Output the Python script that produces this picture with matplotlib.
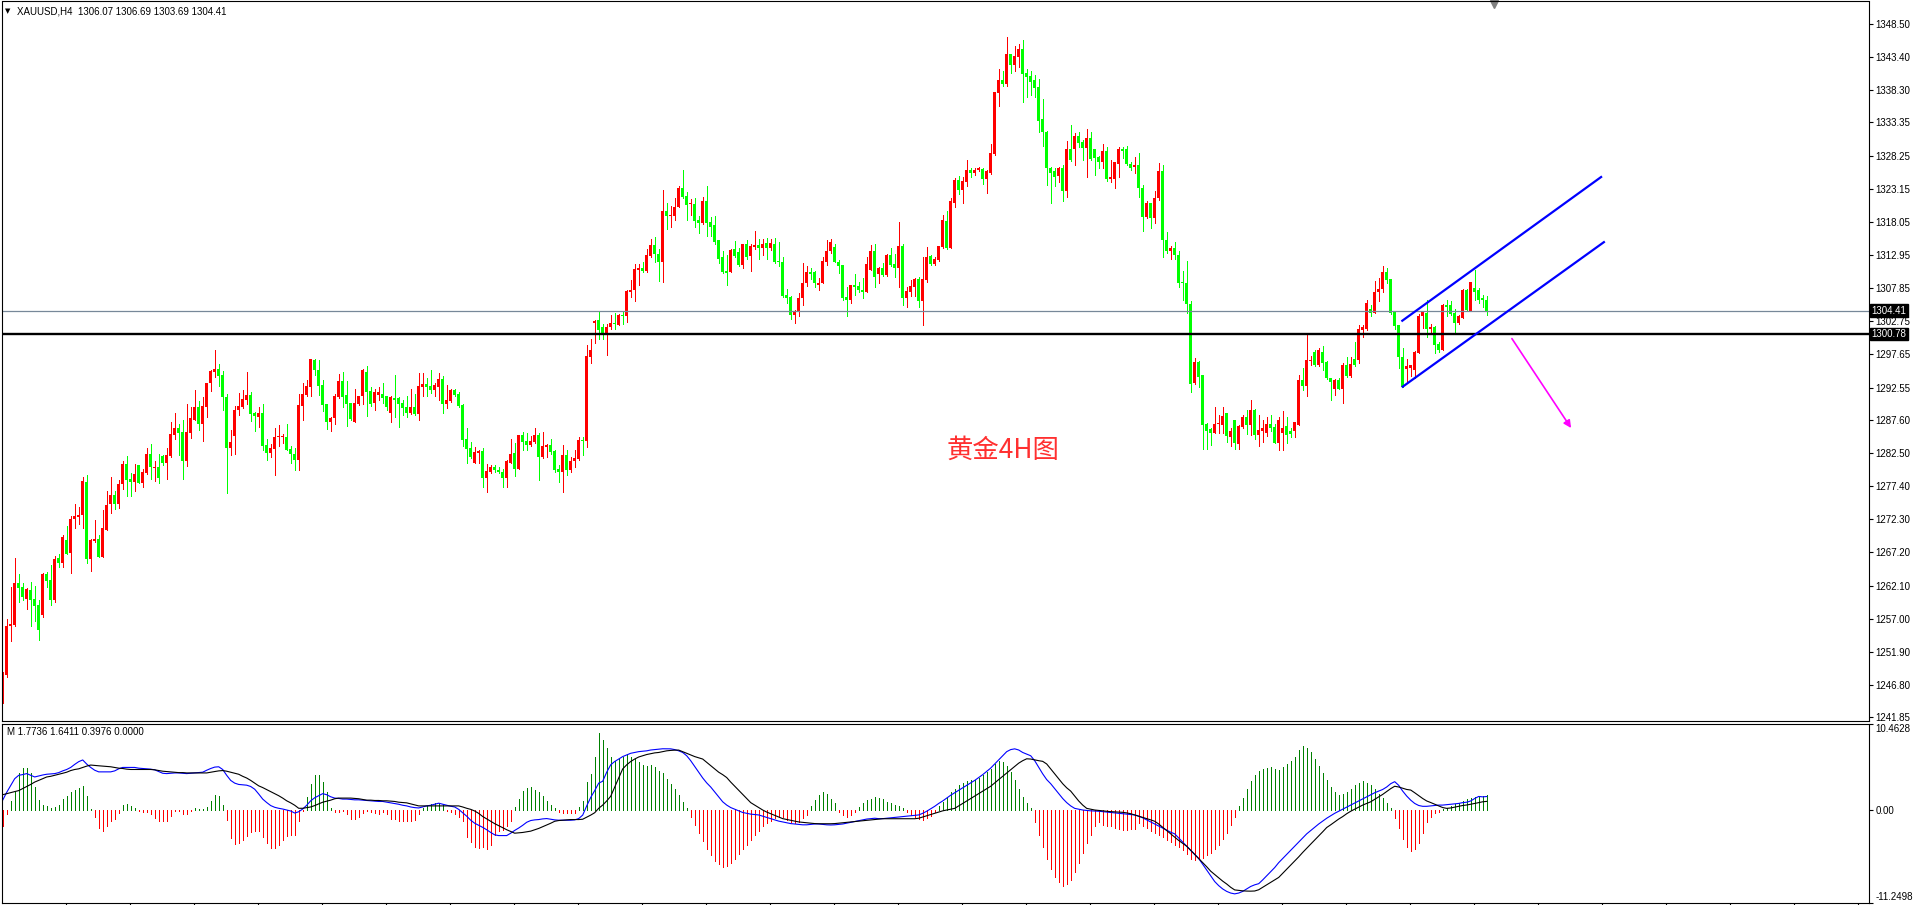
import numpy as np
import matplotlib.pyplot as plt

plt.rcParams['font.family'] = ['Liberation Sans', 'DejaVu Sans']

# XAUUSD H4 bars (oldest first)
opens = [
    1244.2, 1248.3, 1255.8, 1256.0, 1262.5, 1261.9, 1260.0, 1261.4, 1260.0, 1259.1,
    1257.6, 1263.9, 1263.0, 1259.9, 1266.3, 1265.6, 1269.1, 1267.1, 1272.3, 1272.7,
    1272.9, 1278.1, 1266.2, 1268.9, 1269.2, 1266.5, 1270.7, 1274.6, 1276.0, 1274.6,
    1277.7, 1280.8, 1278.5, 1278.1, 1280.6, 1277.9, 1279.4, 1282.3, 1280.2, 1280.4,
    1282.0, 1281.0, 1282.0, 1285.2, 1286.4, 1285.7, 1281.3, 1285.6, 1287.6, 1289.6,
    1287.0, 1289.5, 1293.2, 1295.0, 1295.4, 1294.5, 1291.1, 1283.3, 1285.1, 1289.1,
    1289.6, 1290.6, 1291.4, 1288.7, 1288.1, 1288.7, 1283.7, 1282.5, 1283.1, 1284.9,
    1284.9, 1285.0, 1283.1, 1282.3, 1281.4, 1289.7, 1291.4, 1292.7, 1296.8, 1295.3,
    1292.9, 1290.0, 1287.3, 1287.9, 1291.1, 1293.6, 1291.4, 1290.2, 1287.3, 1290.0,
    1291.2, 1295.0, 1292.1, 1290.2, 1291.4, 1291.5, 1291.2, 1288.7, 1291.0, 1290.9,
    1290.2, 1289.5, 1288.6, 1289.6, 1288.5, 1292.6, 1293.1, 1292.8, 1292.2, 1292.6,
    1293.9, 1290.0, 1290.5, 1292.2, 1291.6, 1289.9, 1284.6, 1283.3, 1281.0, 1282.5,
    1282.8, 1278.7, 1279.6, 1280.4, 1279.8, 1279.6, 1278.7, 1280.9, 1282.5, 1280.0,
    1285.2, 1284.4, 1283.7, 1284.2, 1285.3, 1281.9, 1283.4, 1283.7, 1282.8, 1280.0,
    1279.5, 1282.2, 1279.8, 1281.2, 1281.6, 1284.5, 1284.4, 1297.3, 1302.5, 1302.9,
    1301.8, 1300.8, 1301.8, 1302.5, 1302.2, 1303.7, 1303.5, 1307.3, 1307.5, 1310.6,
    1311.0, 1310.5, 1312.8, 1314.5, 1313.1, 1311.9, 1319.7, 1318.9, 1318.9, 1320.3,
    1323.2, 1322.0, 1320.8, 1320.8, 1318.4, 1317.8, 1321.3, 1318.1, 1317.6, 1315.2,
    1312.7, 1310.5, 1310.4, 1313.8, 1313.4, 1311.4, 1314.6, 1312.8, 1314.2, 1314.5,
    1314.0, 1314.8, 1314.0, 1314.7, 1312.0, 1311.9, 1306.8, 1306.5, 1303.7, 1304.2,
    1306.4, 1308.6, 1310.3, 1310.3, 1308.3, 1308.7, 1311.9, 1313.5, 1314.2, 1311.9,
    1311.4, 1306.5, 1306.0, 1308.3, 1308.2, 1307.6, 1307.3, 1310.6, 1313.5, 1310.0,
    1310.9, 1309.9, 1313.0, 1311.6, 1310.9, 1314.3, 1306.3, 1307.3, 1308.1, 1309.3,
    1305.8, 1309.1, 1312.8, 1311.6, 1312.2, 1314.2, 1318.2, 1314.1, 1321.0, 1324.5,
    1322.9, 1324.2, 1326.0, 1325.6, 1326.1, 1326.2, 1324.6, 1325.6, 1328.5, 1337.9,
    1339.8, 1339.3, 1343.9, 1342.2, 1343.4, 1344.6, 1341.0, 1340.5, 1339.8, 1338.8,
    1333.8, 1331.9, 1326.4, 1325.8, 1325.1, 1326.3, 1322.8, 1329.2, 1329.3, 1331.3,
    1330.4, 1329.4, 1330.9, 1329.2, 1328.0, 1327.2, 1329.0, 1324.7, 1324.7, 1327.0,
    1329.2, 1329.2, 1327.0, 1326.5, 1326.8, 1323.2, 1318.8, 1321.0, 1318.6, 1321.7,
    1325.8, 1315.3, 1313.5, 1314.0, 1313.0, 1308.8, 1308.7, 1305.4, 1293.2, 1296.5,
    1294.5, 1287.0, 1286.2, 1285.5, 1286.9, 1286.8, 1288.6, 1284.9, 1287.6, 1283.9,
    1286.5, 1288.0, 1286.8, 1289.1, 1285.2, 1285.8, 1285.6, 1287.0, 1286.5, 1284.1,
    1285.6, 1286.6, 1285.9, 1285.8, 1286.8, 1293.7, 1292.8, 1296.7, 1298.1, 1296.0,
    1298.1, 1296.5, 1294.0, 1292.4, 1293.7, 1292.4, 1296.0, 1294.3, 1297.0, 1296.8,
    1301.4, 1301.6, 1304.7, 1304.1, 1307.3, 1307.7, 1310.4, 1309.2, 1304.2, 1302.2,
    1297.3, 1295.4, 1295.5, 1295.3, 1297.9, 1303.5, 1304.1, 1301.5, 1301.9, 1299.3,
    1298.4, 1305.3, 1305.3, 1304.1, 1302.5, 1303.2, 1307.6, 1304.4, 1307.8, 1307.6,
    1306.3, 1306.07,
]
highs = [
    1248.8, 1256.9, 1261.9, 1266.4, 1263.9, 1262.5, 1261.7, 1262.6, 1262.1, 1259.9,
    1264.0, 1264.2, 1265.2, 1266.6, 1267.0, 1269.8, 1271.3, 1272.8, 1274.6, 1274.2,
    1278.8, 1279.1, 1269.2, 1272.2, 1269.9, 1273.7, 1276.6, 1278.8, 1276.7, 1278.3,
    1281.3, 1282.0, 1279.4, 1280.8, 1280.7, 1280.1, 1283.3, 1283.9, 1281.3, 1282.3,
    1282.2, 1283.3, 1287.3, 1288.6, 1287.0, 1287.6, 1290.1, 1289.6, 1292.2, 1290.5,
    1291.1, 1293.2, 1295.3, 1298.3, 1296.2, 1295.1, 1291.6, 1286.0, 1289.7, 1291.7,
    1292.2, 1294.9, 1291.9, 1288.8, 1289.5, 1290.0, 1284.6, 1283.9, 1286.3, 1286.8,
    1285.4, 1286.9, 1283.5, 1283.3, 1291.6, 1293.2, 1293.7, 1297.0, 1296.9, 1296.8,
    1293.7, 1290.0, 1288.1, 1291.6, 1294.6, 1295.0, 1293.5, 1290.2, 1292.4, 1291.3,
    1295.4, 1295.8, 1292.6, 1292.3, 1292.6, 1293.2, 1291.3, 1291.2, 1294.5, 1291.1,
    1290.6, 1291.2, 1292.4, 1291.6, 1294.8, 1294.8, 1294.0, 1295.3, 1293.2, 1294.8,
    1294.3, 1292.9, 1292.3, 1292.4, 1291.9, 1290.0, 1286.3, 1284.2, 1283.4, 1282.9,
    1283.2, 1280.8, 1280.6, 1280.6, 1280.4, 1280.1, 1281.4, 1284.6, 1284.1, 1285.3,
    1285.7, 1285.5, 1285.1, 1286.4, 1285.5, 1285.7, 1283.9, 1284.6, 1283.0, 1280.6,
    1283.7, 1283.0, 1281.9, 1283.0, 1284.9, 1285.0, 1299.1, 1300.1, 1303.0, 1304.4,
    1302.3, 1302.4, 1303.7, 1304.0, 1303.8, 1304.3, 1307.6, 1309.1, 1311.6, 1311.6,
    1311.9, 1313.9, 1315.4, 1315.7, 1313.8, 1323.0, 1320.9, 1320.5, 1321.7, 1323.6,
    1326.0, 1322.7, 1321.5, 1321.7, 1318.9, 1321.8, 1323.5, 1318.8, 1319.0, 1315.2,
    1313.5, 1312.9, 1313.8, 1315.1, 1314.1, 1314.7, 1315.2, 1314.6, 1316.7, 1315.4,
    1315.4, 1315.5, 1315.4, 1315.5, 1315.0, 1312.7, 1307.7, 1306.6, 1304.5, 1307.1,
    1311.7, 1311.3, 1311.0, 1310.5, 1309.4, 1312.7, 1315.3, 1315.4, 1314.7, 1312.2,
    1311.4, 1308.1, 1308.4, 1310.1, 1308.8, 1309.4, 1312.7, 1314.5, 1314.6, 1311.1,
    1311.7, 1313.1, 1314.1, 1313.1, 1318.1, 1314.7, 1308.1, 1309.1, 1309.4, 1309.5,
    1312.6, 1314.2, 1312.9, 1312.7, 1314.4, 1319.1, 1319.7, 1321.7, 1324.8, 1325.1,
    1325.0, 1327.5, 1326.4, 1326.4, 1326.5, 1326.3, 1326.0, 1330.1, 1338.1, 1341.6,
    1341.2, 1346.5, 1343.9, 1345.1, 1345.4, 1346.0, 1341.5, 1341.3, 1340.6, 1340.1,
    1337.0, 1332.0, 1326.5, 1326.4, 1326.5, 1326.8, 1330.5, 1332.9, 1331.7, 1331.8,
    1330.6, 1332.3, 1331.8, 1329.3, 1328.2, 1330.0, 1329.5, 1327.5, 1327.3, 1329.5,
    1329.5, 1329.7, 1327.3, 1328.0, 1328.6, 1323.7, 1321.2, 1321.0, 1322.8, 1327.1,
    1326.8, 1316.5, 1314.3, 1315.0, 1313.5, 1310.5, 1312.1, 1305.8, 1297.1, 1296.7,
    1294.5, 1287.1, 1286.3, 1289.6, 1288.3, 1289.5, 1288.7, 1286.4, 1287.6, 1286.8,
    1288.3, 1289.1, 1290.7, 1289.2, 1288.3, 1287.6, 1288.1, 1288.4, 1287.0, 1288.1,
    1288.9, 1288.1, 1286.3, 1287.3, 1294.5, 1295.5, 1300.6, 1297.4, 1298.4, 1298.6,
    1298.9, 1296.6, 1294.1, 1293.8, 1294.0, 1296.3, 1297.2, 1297.3, 1299.6, 1302.2,
    1302.2, 1306.0, 1305.3, 1309.0, 1309.4, 1311.2, 1310.9, 1309.2, 1304.2, 1302.2,
    1298.7, 1296.9, 1296.0, 1298.2, 1303.9, 1304.3, 1306.0, 1302.4, 1302.0, 1299.5,
    1305.4, 1306.1, 1305.9, 1304.7, 1303.7, 1307.7, 1307.7, 1308.8, 1310.6, 1307.8,
    1306.8, 1306.69,
]
lows = [
    1244.0, 1248.1, 1253.5, 1255.8, 1259.5, 1259.8, 1258.5, 1255.9, 1256.6, 1253.7,
    1257.2, 1261.9, 1259.1, 1259.6, 1264.9, 1265.0, 1266.9, 1264.1, 1271.0, 1271.5,
    1270.9, 1265.6, 1264.4, 1268.8, 1266.5, 1266.5, 1270.6, 1273.2, 1273.8, 1274.0,
    1276.9, 1275.8, 1275.8, 1276.7, 1277.8, 1277.3, 1279.3, 1278.5, 1278.2, 1277.9,
    1280.6, 1278.5, 1281.9, 1284.6, 1282.2, 1278.5, 1280.5, 1284.8, 1287.5, 1286.0,
    1284.4, 1288.1, 1292.1, 1294.2, 1292.8, 1289.1, 1276.4, 1282.2, 1282.3, 1288.4,
    1289.4, 1290.1, 1287.4, 1285.9, 1286.5, 1283.0, 1281.4, 1281.9, 1279.1, 1283.6,
    1284.0, 1283.0, 1281.0, 1279.9, 1279.9, 1287.5, 1291.2, 1291.2, 1294.5, 1291.4,
    1288.9, 1286.2, 1285.9, 1286.9, 1290.9, 1289.6, 1286.6, 1287.5, 1287.3, 1289.9,
    1290.0, 1288.2, 1289.7, 1289.1, 1290.7, 1290.2, 1289.1, 1287.3, 1288.0, 1286.5,
    1288.3, 1288.1, 1288.5, 1288.3, 1287.6, 1291.2, 1291.3, 1291.7, 1291.2, 1290.6,
    1288.6, 1289.4, 1290.4, 1291.2, 1289.6, 1283.5, 1281.0, 1281.7, 1280.9, 1280.9,
    1277.3, 1276.5, 1279.4, 1279.6, 1279.4, 1277.3, 1277.2, 1280.9, 1278.9, 1280.0,
    1282.9, 1282.9, 1283.5, 1284.0, 1278.3, 1281.7, 1281.9, 1282.3, 1279.5, 1278.1,
    1276.5, 1279.1, 1279.6, 1280.4, 1281.4, 1282.2, 1283.4, 1296.3, 1299.4, 1300.0,
    1300.0, 1297.5, 1301.6, 1301.6, 1302.2, 1302.4, 1302.7, 1306.5, 1305.9, 1308.3,
    1310.4, 1310.4, 1312.7, 1311.8, 1309.0, 1308.8, 1317.0, 1317.2, 1318.4, 1320.3,
    1321.7, 1318.4, 1319.1, 1317.2, 1316.4, 1317.7, 1315.9, 1315.9, 1314.7, 1311.7,
    1310.2, 1308.3, 1310.4, 1312.7, 1311.3, 1311.0, 1312.4, 1310.5, 1313.8, 1312.4,
    1313.0, 1312.4, 1313.7, 1311.7, 1311.3, 1306.5, 1305.5, 1303.1, 1302.5, 1303.5,
    1305.3, 1308.2, 1309.2, 1308.0, 1307.6, 1308.6, 1311.4, 1313.3, 1311.8, 1310.2,
    1306.0, 1303.5, 1305.6, 1306.8, 1307.3, 1306.3, 1307.3, 1310.6, 1308.1, 1308.7,
    1309.7, 1309.7, 1311.2, 1309.6, 1308.0, 1305.2, 1304.9, 1306.7, 1306.6, 1305.0,
    1302.2, 1308.8, 1311.4, 1311.4, 1312.1, 1314.0, 1313.9, 1314.1, 1320.4, 1322.3,
    1321.0, 1323.6, 1325.0, 1325.2, 1325.9, 1323.9, 1322.5, 1325.4, 1328.3, 1335.8,
    1339.0, 1339.0, 1341.0, 1341.3, 1341.9, 1336.5, 1337.3, 1337.6, 1337.3, 1331.8,
    1329.7, 1323.7, 1321.0, 1323.5, 1324.2, 1321.3, 1321.9, 1327.4, 1326.8, 1329.5,
    1327.5, 1324.9, 1327.5, 1325.3, 1326.4, 1326.4, 1324.4, 1324.2, 1323.2, 1325.0,
    1327.9, 1326.8, 1326.1, 1325.5, 1321.9, 1316.7, 1318.7, 1317.1, 1317.9, 1321.4,
    1312.7, 1313.3, 1312.4, 1312.3, 1308.1, 1306.0, 1304.0, 1291.9, 1293.1, 1292.7,
    1283.1, 1283.1, 1283.7, 1285.5, 1285.5, 1285.5, 1284.2, 1283.5, 1283.1, 1283.1,
    1286.4, 1285.4, 1285.2, 1284.7, 1283.5, 1284.2, 1285.1, 1285.8, 1284.0, 1282.9,
    1282.9, 1284.1, 1285.0, 1285.0, 1286.8, 1292.2, 1291.3, 1296.0, 1295.8, 1295.8,
    1295.2, 1293.8, 1290.6, 1291.4, 1292.3, 1290.2, 1294.2, 1294.2, 1295.8, 1296.3,
    1300.4, 1301.4, 1303.6, 1304.0, 1305.8, 1307.3, 1308.6, 1303.9, 1301.5, 1295.5,
    1292.7, 1293.2, 1294.3, 1294.0, 1297.9, 1301.7, 1300.4, 1300.9, 1297.9, 1298.1,
    1298.3, 1303.6, 1303.7, 1300.9, 1302.3, 1303.2, 1304.4, 1304.4, 1306.0, 1305.6,
    1304.9, 1303.69,
]
closes = [
    1248.6, 1255.9, 1256.2, 1262.5, 1261.7, 1260.3, 1261.5, 1259.9, 1258.9, 1255.3,
    1263.9, 1262.8, 1259.9, 1266.2, 1265.5, 1269.6, 1267.0, 1272.3, 1272.8, 1273.0,
    1278.2, 1266.2, 1269.1, 1269.2, 1266.5, 1270.9, 1274.5, 1276.0, 1274.6, 1277.7,
    1280.8, 1278.4, 1278.1, 1279.3, 1277.9, 1279.5, 1282.3, 1280.3, 1280.4, 1278.7,
    1281.0, 1282.2, 1285.4, 1286.4, 1285.6, 1281.3, 1285.7, 1287.9, 1289.6, 1287.0,
    1289.7, 1293.2, 1295.1, 1295.4, 1294.4, 1291.1, 1283.3, 1284.2, 1289.1, 1289.7,
    1290.8, 1291.4, 1288.5, 1288.2, 1288.7, 1283.6, 1282.5, 1283.3, 1285.0, 1285.0,
    1285.0, 1283.0, 1282.3, 1281.4, 1289.9, 1291.6, 1292.8, 1296.9, 1295.2, 1292.8,
    1289.9, 1287.3, 1287.9, 1291.3, 1293.6, 1291.1, 1290.0, 1287.7, 1290.2, 1291.3,
    1295.2, 1291.9, 1290.1, 1291.8, 1291.8, 1291.0, 1289.5, 1291.1, 1290.7, 1290.1,
    1289.4, 1288.6, 1289.5, 1288.5, 1292.8, 1293.1, 1292.6, 1292.2, 1292.9, 1293.9,
    1290.0, 1290.6, 1292.2, 1291.4, 1289.7, 1284.5, 1283.1, 1281.8, 1282.6, 1282.8,
    1278.7, 1279.7, 1280.4, 1279.9, 1279.5, 1278.7, 1281.2, 1282.4, 1280.0, 1285.2,
    1284.2, 1283.7, 1284.4, 1285.3, 1281.9, 1283.5, 1283.7, 1282.6, 1279.9, 1279.5,
    1282.2, 1279.8, 1281.3, 1281.7, 1284.5, 1284.4, 1297.4, 1298.3, 1302.8, 1301.4,
    1300.9, 1301.8, 1302.5, 1302.4, 1303.7, 1303.5, 1307.4, 1307.6, 1310.8, 1311.0,
    1310.5, 1313.0, 1314.5, 1313.1, 1311.9, 1319.7, 1318.9, 1319.1, 1320.3, 1323.2,
    1321.8, 1320.6, 1321.0, 1318.2, 1317.8, 1321.3, 1317.9, 1317.2, 1315.0, 1312.4,
    1310.4, 1310.2, 1313.7, 1312.8, 1311.4, 1314.6, 1312.6, 1314.3, 1314.5, 1314.0,
    1314.7, 1314.0, 1314.8, 1311.9, 1311.9, 1306.6, 1306.3, 1303.7, 1304.3, 1306.4,
    1308.7, 1310.3, 1310.1, 1308.6, 1308.7, 1312.0, 1313.6, 1315.0, 1311.9, 1311.3,
    1306.4, 1306.0, 1308.3, 1308.1, 1307.5, 1307.3, 1311.6, 1313.5, 1309.6, 1310.9,
    1309.9, 1313.0, 1311.4, 1310.9, 1314.3, 1306.4, 1307.4, 1308.2, 1309.3, 1305.8,
    1309.3, 1312.6, 1311.6, 1312.3, 1314.3, 1318.3, 1314.1, 1321.3, 1324.5, 1322.9,
    1324.3, 1326.0, 1325.6, 1326.1, 1326.3, 1324.6, 1325.8, 1328.6, 1338.1, 1339.8,
    1339.3, 1343.9, 1342.2, 1343.5, 1344.6, 1340.8, 1340.4, 1339.6, 1338.7, 1333.6,
    1331.8, 1326.3, 1325.6, 1325.0, 1326.3, 1322.8, 1329.3, 1327.5, 1331.3, 1330.2,
    1329.4, 1331.0, 1327.7, 1327.8, 1327.3, 1329.0, 1324.6, 1325.0, 1327.2, 1329.2,
    1329.0, 1326.9, 1326.4, 1326.8, 1323.2, 1318.8, 1321.0, 1318.6, 1321.7, 1325.8,
    1315.3, 1313.5, 1314.1, 1313.0, 1308.7, 1308.6, 1305.4, 1293.1, 1296.5, 1294.2,
    1286.8, 1285.9, 1285.5, 1287.0, 1287.0, 1288.2, 1285.1, 1285.8, 1284.0, 1286.6,
    1288.0, 1286.8, 1289.1, 1285.2, 1286.0, 1286.3, 1287.0, 1286.3, 1284.1, 1287.5,
    1286.3, 1285.3, 1285.4, 1287.2, 1293.7, 1292.8, 1296.8, 1296.8, 1296.0, 1298.4,
    1296.4, 1294.0, 1293.4, 1293.7, 1292.4, 1296.0, 1294.3, 1296.2, 1296.0, 1301.6,
    1301.9, 1305.5, 1304.1, 1307.3, 1307.7, 1310.4, 1309.1, 1304.1, 1302.0, 1297.2,
    1292.7, 1295.8, 1296.0, 1298.1, 1303.6, 1304.2, 1301.5, 1301.8, 1299.1, 1298.3,
    1305.3, 1305.0, 1303.9, 1302.5, 1303.5, 1307.5, 1304.5, 1308.8, 1307.3, 1306.1,
    1306.0, 1304.41,
]

# MACD panel: blue main line, black signal line, histogram
macd_main = [
    1.20, 2.15, 2.98, 3.81, 4.22, 4.31, 4.43, 4.22, 4.02, 4.14,
    4.26, 4.35, 4.39, 4.43, 4.55, 4.76, 4.93, 5.18, 5.55, 5.88,
    6.09, 5.59, 5.18, 4.84, 4.64, 4.64, 4.64, 4.64, 4.76, 5.01,
    5.18, 5.18, 5.18, 5.18, 5.09, 5.05, 5.01, 4.97, 4.89, 4.68,
    4.47, 4.43, 4.47, 4.51, 4.51, 4.47, 4.43, 4.47, 4.51, 4.55,
    4.60, 4.84, 5.05, 5.22, 5.26, 4.93, 4.22, 3.60, 3.27, 3.11,
    3.06, 3.02, 2.86, 2.53, 1.95, 1.33, 0.91, 0.54, 0.33, 0.21,
    0.12, 0.00, -0.12, -0.37, -0.21, 0.12, 0.58, 1.12, 1.49, 1.74,
    1.99, 1.86, 1.61, 1.45, 1.41, 1.33, 1.33, 1.28, 1.24, 1.24,
    1.20, 1.16, 1.12, 1.08, 1.04, 1.04, 0.95, 0.87, 0.79, 0.70,
    0.58, 0.50, 0.37, 0.29, 0.25, 0.37, 0.50, 0.58, 0.70, 0.83,
    0.70, 0.58, 0.46, 0.37, 0.08, -0.33, -0.75, -1.24, -1.61, -1.86,
    -2.11, -2.40, -2.73, -3.02, -3.11, -3.11, -3.11, -2.82, -2.48, -2.19,
    -1.86, -1.49, -1.28, -1.20, -1.16, -1.08, -1.04, -1.12, -1.20, -1.24,
    -1.24, -1.24, -1.24, -1.20, -1.04, -0.62, 0.50, 1.53, 2.36, 3.27,
    3.5, 4.6, 5.5, 5.9, 6.2, 6.5, 6.7, 6.9, 7.0, 7.1,
    7.15, 7.2, 7.3, 7.35, 7.4, 7.45, 7.45, 7.44, 7.35, 7.2,
    7.0, 6.6, 6.0, 5.3, 4.6, 3.9, 3.3, 2.8, 2.2, 1.6,
    1.0, 0.6, 0.3, 0.1, -0.1, -0.3, -0.4, -0.5, -0.55, -0.6,
    -0.75, -0.9, -1.05, -1.2, -1.35, -1.45, -1.55, -1.65, -1.7, -1.75,
    -1.8, -1.8, -1.75, -1.7, -1.7, -1.75, -1.8, -1.82, -1.8, -1.75,
    -1.7, -1.6, -1.5, -1.4, -1.3, -1.2, -1.1, -1.05, -1.0, -1.05,
    -1.05, -1.0, -0.95, -0.9, -0.85, -0.8, -0.75, -0.7, -0.65, -0.6,
    -0.4, -0.15, 0.15, 0.45, 0.8, 1.1, 1.45, 1.8, 2.1, 2.4,
    2.7, 3.0, 3.3, 3.6, 3.95, 4.3, 4.7, 5.1, 5.6, 6.1,
    6.6, 7.1, 7.35, 7.44, 7.3, 7.0, 6.8, 6.6, 6.0, 5.2,
    4.4, 3.7, 3.2, 2.6, 2.0, 1.4, 0.9, 0.5, 0.2, 0.1,
    0.0, -0.05, -0.1, -0.12, -0.15, -0.2, -0.25, -0.3, -0.35, -0.4,
    -0.45, -0.5, -0.55, -0.6, -0.75, -0.95, -1.2, -1.45, -1.7, -1.95,
    -2.2, -2.45, -2.7, -2.9, -3.4, -3.9, -4.4, -4.9, -5.4, -5.9,
    -6.6, -7.3, -8.0, -8.7, -9.2, -9.6, -9.9, -10.1, -10.2, -10.1,
    -9.9, -9.6, -9.3, -9.1, -8.96, -8.5, -8.0, -7.5, -7.0, -6.4,
    -5.9, -5.4, -4.9, -4.4, -3.9, -3.4, -2.9, -2.5, -2.1, -1.7,
    -1.35, -1.0, -0.7, -0.4, -0.15, 0.1, 0.35, 0.6, 0.85, 1.1,
    1.35, 1.6, 1.85, 2.1, 2.3, 2.5, 2.8, 3.2, 3.45, 3.0,
    2.3, 1.7, 1.2, 0.8, 0.55, 0.45, 0.45, 0.5, 0.55, 0.6,
    0.6, 0.65, 0.7, 0.75, 0.8, 0.9, 0.95, 1.1, 1.4, 1.65,
    1.6, 1.64,
]
macd_signal = [
    1.86, 1.99, 2.11, 2.24, 2.36, 2.61, 2.86, 3.11, 3.40, 3.60,
    3.81, 4.02, 4.10, 4.22, 4.35, 4.47, 4.60, 4.80, 4.93, 5.01,
    5.18, 5.34, 5.47, 5.42, 5.38, 5.34, 5.30, 5.26, 5.18, 5.09,
    5.05, 4.97, 4.93, 4.93, 4.93, 4.93, 4.93, 4.93, 4.89, 4.80,
    4.72, 4.68, 4.64, 4.60, 4.55, 4.55, 4.51, 4.51, 4.51, 4.51,
    4.51, 4.51, 4.60, 4.68, 4.76, 4.80, 4.72, 4.60, 4.47, 4.35,
    4.10, 3.89, 3.60, 3.27, 2.94, 2.73, 2.48, 2.24, 1.99, 1.74,
    1.45, 1.12, 0.87, 0.58, 0.21, 0.21, 0.29, 0.37, 0.54, 0.75,
    0.95, 1.08, 1.20, 1.37, 1.45, 1.45, 1.45, 1.45, 1.41, 1.37,
    1.28, 1.20, 1.20, 1.16, 1.16, 1.12, 1.12, 1.08, 1.04, 0.95,
    0.91, 0.87, 0.75, 0.62, 0.50, 0.50, 0.50, 0.50, 0.50, 0.50,
    0.50, 0.50, 0.50, 0.50, 0.50, 0.37, 0.21, 0.08, -0.12, -0.41,
    -0.79, -1.08, -1.37, -1.66, -1.90, -2.15, -2.40, -2.61, -2.82, -2.77,
    -2.73, -2.65, -2.57, -2.40, -2.24, -2.03, -1.82, -1.61, -1.37, -1.28,
    -1.24, -1.20, -1.16, -1.16, -1.16, -1.12, -0.87, -0.62, -0.33, 0.21,
    0.6, 1.1, 1.67, 2.8, 3.9, 5.0, 5.5, 5.9, 6.2, 6.45,
    6.6, 6.75, 6.85, 6.95, 7.0, 7.1, 7.2, 7.25, 7.28, 7.29,
    7.1, 6.9, 6.7, 6.5, 6.35, 6.2, 5.8, 5.4, 5.0, 4.6,
    4.3, 3.95, 3.4, 2.9, 2.4, 1.9, 1.4, 0.9, 0.6, 0.3,
    0.0, -0.25, -0.45, -0.65, -0.85, -1.05, -1.15, -1.25, -1.35, -1.45,
    -1.5, -1.55, -1.6, -1.65, -1.67, -1.67, -1.67, -1.67, -1.65, -1.6,
    -1.55, -1.5, -1.45, -1.4, -1.35, -1.3, -1.25, -1.2, -1.15, -1.1,
    -1.06, -1.06, -1.06, -1.06, -1.06, -1.06, -1.06, -1.06, -1.06, -1.0,
    -0.85, -0.7, -0.55, -0.4, -0.25, -0.1, 0.0, 0.1, 0.2, 0.5,
    0.8, 1.1, 1.4, 1.7, 2.0, 2.3, 2.6, 2.89, 3.3, 3.7,
    4.1, 4.5, 4.9, 5.3, 5.7, 6.0, 6.23, 6.2, 6.1, 6.0,
    5.92, 5.6, 5.0, 4.4, 3.8, 3.2, 2.7, 2.3, 1.7, 1.1,
    0.6, 0.2, 0.1, 0.0, -0.05, -0.1, -0.15, -0.2, -0.22, -0.25,
    -0.28, -0.35, -0.45, -0.6, -0.75, -0.9, -1.05, -1.2, -1.37, -1.7,
    -2.1, -2.5, -2.9, -3.3, -3.7, -4.05, -4.41, -4.9, -5.4, -5.9,
    -6.4, -6.9, -7.44, -7.85, -8.25, -8.65, -9.0, -9.4, -9.72, -9.78,
    -9.83, -9.86, -9.87, -9.85, -9.7, -9.4, -9.1, -8.8, -8.5, -8.2,
    -7.7, -7.2, -6.7, -6.2, -5.7, -5.16, -4.65, -4.15, -3.65, -3.15,
    -2.65, -2.13, -1.8, -1.45, -1.1, -0.8, -0.45, -0.15, 0.1, 0.35,
    0.6, 0.8, 1.0, 1.3, 1.6, 1.9, 2.25, 2.6, 2.89, 2.8,
    2.65, 2.5, 2.43, 2.1, 1.75, 1.4, 1.1, 0.91, 0.7, 0.5,
    0.3, 0.2, 0.25, 0.35, 0.45, 0.55, 0.61, 0.7, 0.8, 0.9,
    1.0, 1.05,
]
macd_hist = [
    -1.99, -0.54, 1.12, 2.15, 4.51, 5.05, 5.05, 4.51, 2.77, 1.20,
    0.62, 0.50, 0.21, 0.37, 0.62, 1.33, 1.74, 2.15, 2.48, 2.69,
    2.98, 1.74, 0.10, -0.87, -2.19, -2.53, -1.99, -1.37, -1.04, -0.33,
    0.62, 0.79, 0.50, 0.29, -0.12, -0.25, -0.25, -0.46, -0.95, -1.37,
    -1.37, -1.37, -0.75, -0.12, -0.12, -0.54, -0.46, -0.12, 0.29, 0.17,
    0.10, 0.41, 1.12, 1.86, 1.74, 0.62, -1.16, -3.44, -4.18, -4.06,
    -3.64, -3.11, -2.69, -2.61, -2.61, -3.23, -4.06, -4.60, -4.68, -4.27,
    -3.64, -3.11, -3.02, -3.02, -1.37, -0.12, 1.61, 3.11, 4.22, 4.31,
    3.40, 2.15, 0.29, -0.25, -0.25, -0.12, -0.54, -1.04, -1.04, -0.87,
    -0.33, -0.12, -0.21, -0.33, -0.54, -0.25, -0.54, -1.04, -1.04, -1.37,
    -1.37, -1.37, -1.37, -1.16, -0.54, 0.29, 0.50, 0.70, 0.91, 0.91,
    0.62, -0.10, -0.25, -0.46, -0.87, -1.37, -3.23, -3.85, -4.47, -4.60,
    -4.47, -4.76, -4.27, -3.02, -2.61, -2.40, -1.99, -1.37, 0.37, 1.33,
    2.36, 2.69, 2.86, 2.44, 2.15, 1.74, 1.12, 0.62, 0.29, -0.25,
    -0.33, -0.33, -0.33, -0.33, 0.37, 1.04, 3.40, 4.43, 6.50, 9.40,
    8.5, 7.5, 6.5, 6.0, 6.2, 6.5, 6.8, 6.5, 6.2, 5.8,
    5.5, 5.3, 5.5, 5.2, 4.8, 4.5, 3.8, 3.2, 2.5, 1.8,
    1.0, 0.3, -0.8, -1.8, -2.8, -3.8, -4.8, -5.5, -6.2, -6.6,
    -6.9, -6.8, -6.5, -6.0, -5.4, -4.8, -4.2, -3.6, -3.0, -2.5,
    -2.0, -1.6, -1.3, -1.0, -0.8, -0.9, -1.2, -1.5, -1.6, -1.4,
    -1.0, -0.6, 0.5, 1.2, 1.8, 2.2, 2.0, 1.4, 0.8, -0.3,
    -0.6, -0.8, -0.6, -0.3, 0.4, 0.8, 1.2, 1.4, 1.6, 1.5,
    1.3, 1.0, 0.8, 0.6, 0.5, 0.3, -0.3, -0.6, -0.9, -1.1,
    -1.2, -1.0, -0.7, -0.3, 0.5, 1.0, 1.6, 2.2, 2.6, 3.0,
    3.3, 3.5, 3.6, 3.7, 3.9, 4.2, 4.6, 5.0, 5.6, 6.0,
    5.8, 5.4, 4.6, 3.6, 2.6, 1.6, 0.8, 0.2, -1.5, -3.0,
    -4.5, -6.0, -7.2, -8.2, -8.8, -9.2, -9.0, -8.5, -7.5, -6.5,
    -5.2, -4.0, -3.0, -2.0, -1.4, -1.8, -1.9, -2.0, -2.2, -2.3,
    -2.4, -2.4, -2.3, -2.3, -1.6, -1.9, -2.2, -2.5, -2.8, -3.0,
    -3.3, -3.6, -3.9, -4.2, -4.5, -4.9, -5.3, -5.9, -6.1, -6.0,
    -5.8, -5.5, -5.2, -4.8, -4.2, -3.5, -2.8, -1.8, -0.8, 0.5,
    1.5, 2.5, 3.5, 4.2, 4.8, 5.0, 5.1, 5.2, 5.0, 4.9,
    5.2, 5.6, 6.0, 6.5, 7.3, 7.8, 7.6, 7.0, 6.2, 5.3,
    4.5, 3.6, 2.8, 2.2, 1.8, 1.9, 2.2, 2.6, 3.0, 3.3,
    3.5, 3.3, 3.0, 2.6, 2.0, 1.5, 0.9, 0.3, -1.0, -2.2,
    -3.5, -4.5, -5.0, -4.8, -4.0, -2.8, -1.5, -0.8, -0.4, -0.2,
    0.1, 0.3, 0.5, 0.7, 0.9, 1.1, 1.3, 1.5, 1.6, 1.7,
    1.75, 1.77,
]

price_ticks = [1348.50, 1343.40, 1338.30, 1333.35, 1328.25, 1323.15, 1318.05,
               1312.95, 1307.85, 1302.75, 1297.65, 1292.55, 1287.60, 1282.50,
               1277.40, 1272.30, 1267.20, 1262.10, 1257.00, 1251.90, 1246.80,
               1241.85]
bid_price = 1304.41
support = 1300.78
macd_top, macd_bottom = 10.4628, -11.2498

# hand drawn objects (bar index, price)
channel_upper = [(349.9, 1302.84), (399.6, 1324.95)]
channel_lower = [(350.0, 1292.69), (400.3, 1314.93)]
arrow_from, arrow_to = (377.3, 1300.09), (392.1, 1286.33)
note_pos = (250, 1282.95)

n = len(closes)
assert len(opens) == n and len(highs) == n and len(lows) == n
assert len(macd_main) == n and len(macd_signal) == n and len(macd_hist) == n

o = np.array(opens); h = np.array(highs); l = np.array(lows); c = np.array(closes)
x = np.arange(n)

W, H = 1917, 905
fig = plt.figure(figsize=(W / 100, H / 100), dpi=100)

def px_box(left, top, right, bottom):
    return [left / W, 1 - bottom / H, (right - left) / W, (bottom - top) / H]

ax = fig.add_axes(px_box(1.5, 1.5, 1868.5, 721))
ax2 = fig.add_axes(px_box(1.5, 724, 1868.5, 902.5))

# candles: red = up, lime = down
up = c >= o
cols = np.where(up, '#ff0000', '#00ff00')
ax.vlines(x, l, h, colors=cols, lw=0.7, antialiased=False)
body = np.maximum(np.abs(c - o), 0.13)
ax.bar(x, body, bottom=np.minimum(o, c), width=0.75, color=cols,
       linewidth=0, antialiased=False)

ax.axhline(bid_price, color='#778899', lw=0.9)
ax.axhline(support, color='black', lw=1.7)

for p0, p1 in (channel_upper, channel_lower):
    ax.plot([p0[0], p1[0]], [p0[1], p1[1]], color='#0000ff', lw=1.6)
ax.annotate('', xy=arrow_to, xytext=arrow_from,
            arrowprops=dict(arrowstyle='-|>', color='#ff00ff', lw=1.2,
                            mutation_scale=11, shrinkA=0, shrinkB=0))
ax.text(note_pos[0], note_pos[1], '黄金4H图', fontsize=19, color='#ff3030',
        ha='center', va='center', fontweight='light',
        family=['Noto Sans CJK SC', 'DejaVu Sans'])

ax.set_xlim(-0.3, 466.45)
ax.set_ylim(1241.26, 1351.95)
ax.set_xticks([])
ax.yaxis.tick_right()
ax.set_yticks(price_ticks)
ax.set_yticklabels([f'{v:.2f}' for v in price_ticks])
ax.tick_params(axis='y', direction='out', length=3, width=0.8, labelsize=7, pad=2)

for val in (bid_price, support):
    ax.text(1.0016, val, f'{val:.2f}', transform=ax.get_yaxis_transform(),
            color='white', fontsize=7, va='center', ha='left',
            bbox=dict(boxstyle='square,pad=0.12', fc='black', ec='black'))

ax.plot([372.8], [0.996], marker='v', ms=6, color='#808080',
        transform=ax.get_xaxis_transform(), clip_on=False)

# MACD panel
hist = np.array(macd_hist)
ax2.vlines(x, 0, hist, colors=np.where(hist >= 0, '#008000', '#ff0000'),
           lw=0.55, antialiased=False)
ax2.plot(x, macd_main, color='#0000ff', lw=0.8)
ax2.plot(x, macd_signal, color='black', lw=0.8)
ax2.set_xlim(-0.3, 466.45)
ax2.set_ylim(macd_bottom, macd_top)
ax2.yaxis.tick_right()
ax2.set_yticks([macd_bottom, 0, macd_top])
ax2.set_yticklabels([f'{macd_bottom:.4f}', '0.00', f'{macd_top:.4f}'])
ax2.tick_params(axis='y', direction='out', length=3, width=0.8, labelsize=7, pad=2)
labs = ax2.get_yticklabels()
labs[0].set_va('bottom')
labs[2].set_va('top')
ax2.set_xticks(np.arange(15.8, 466, 16))
ax2.tick_params(axis='x', direction='out', length=3, width=0.8, labelbottom=False)

for a in (ax, ax2):
    for s in a.spines.values():
        s.set_color('black')
        s.set_linewidth(0.8)

fig.text(5 / W, 1 - 11 / H, '▼', fontsize=5, va='center', family=['DejaVu Sans'])
fig.text(17 / W, 1 - 11 / H, 'XAUUSD,H4  1306.07 1306.69 1303.69 1304.41',
         fontsize=7, va='center')
fig.text(7 / W, 1 - 732 / H, 'M 1.7736 1.6411 0.3976 0.0000', fontsize=7, va='center')

fig.savefig('out.png', dpi=100)
